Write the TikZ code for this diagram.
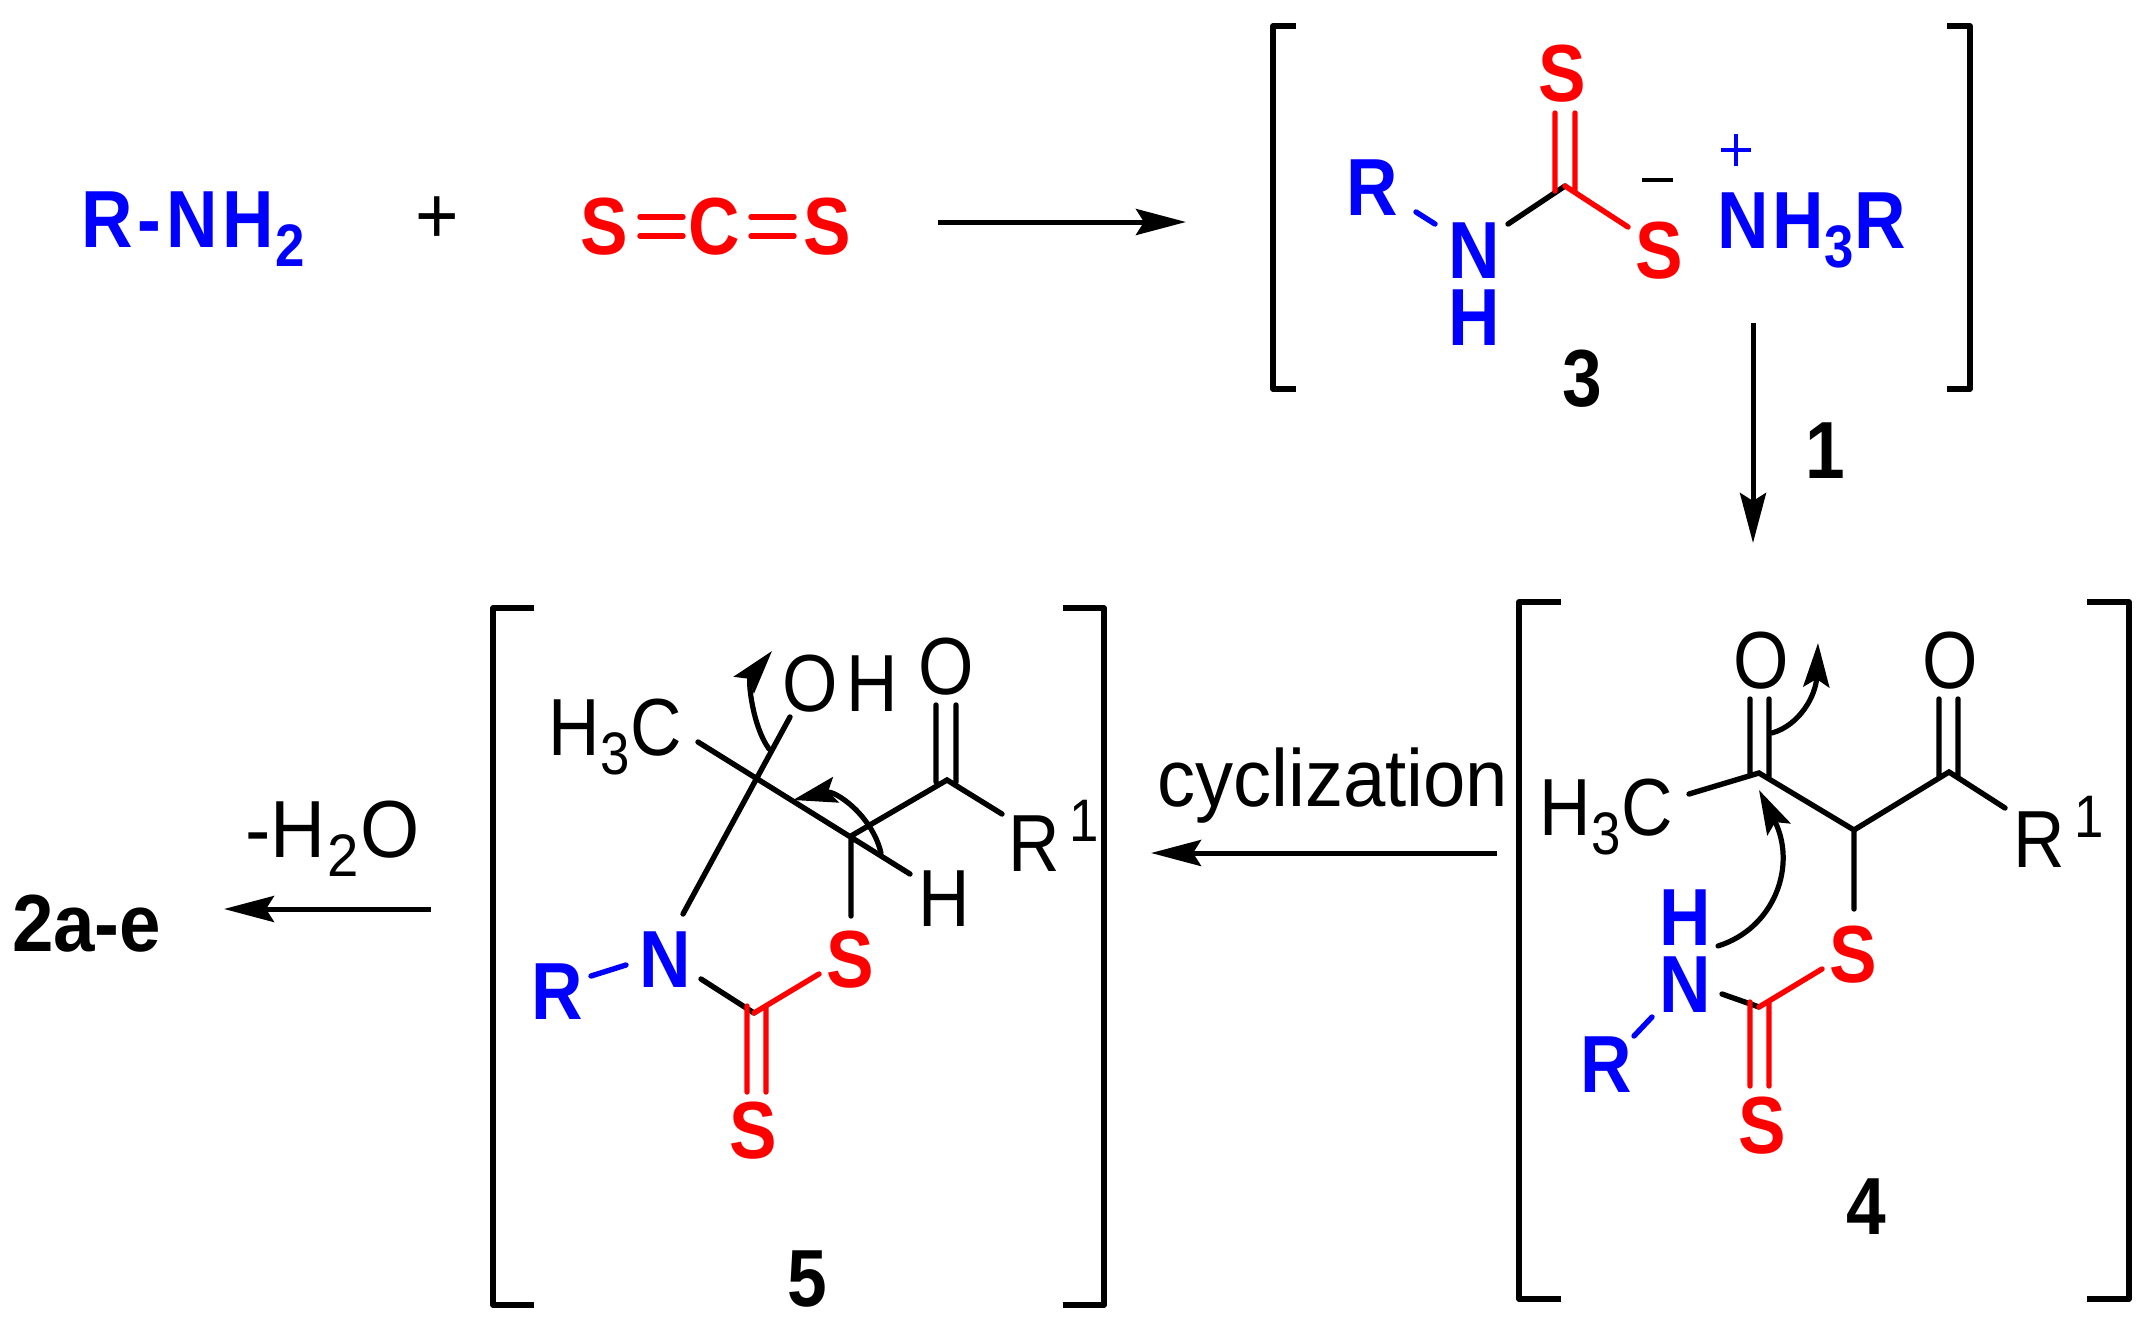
\documentclass[tikz,border=0pt]{standalone}
\usepackage{fontspec}
\setmainfont{Liberation Sans}
\newfontfamily\chemfont[FakeStretch=0.88]{Liberation Sans}
\newfontfamily\cycfont[FakeStretch=0.94]{Liberation Sans}
\newfontfamily\prodfont[FakeStretch=0.92]{Liberation Sans}
\usetikzlibrary{arrows.meta}
\definecolor{chemblue}{RGB}{0,0,255}
\definecolor{chemred}{RGB}{255,0,0}
\newcommand{\lab}{\fontsize{40.5}{40.5}\selectfont}
\newcommand{\labsub}[1]{\raisebox{-9.5pt}{\fontsize{30}{30}\selectfont #1}}
\newcommand{\labsup}[1]{\raisebox{15pt}{\fontsize{30}{30}\selectfont #1}}
\tikzset{
  every node/.style={inner sep=0pt,outer sep=0pt,font=\chemfont\lab},
  atom/.style={anchor=base,text=black},
  atomL/.style={anchor=base west,text=black},
  batom/.style={anchor=base,text=chemblue,font=\chemfont\bfseries\lab},
  batomL/.style={anchor=base west,text=chemblue,font=\chemfont\bfseries\lab},
  ratom/.style={anchor=base,text=chemred,font=\chemfont\bfseries\lab},
  numlab/.style={anchor=base,text=black,font=\chemfont\bfseries\lab},
  bond/.style={draw=black,line width=2.7pt,line cap=round},
  rbond/.style={draw=chemred,line width=2.7pt,line cap=round},
  bbond/.style={draw=chemblue,line width=2.7pt,line cap=round},
  brack/.style={draw=black,line width=2.6pt,line join=round},
  rxn/.style={draw=black,line width=2.5pt,-{Stealth[length=25pt,width=13pt,inset=4pt]}},
  curly/.style={draw=black,line width=2.6pt,line cap=round,-{Stealth[length=22pt,width=13pt,inset=4pt]}},
}
\begin{document}
\begin{tikzpicture}[x=0.5pt,y=-0.5pt]
\useasboundingbox (0,0) rectangle (2154,1328);
% --- top row
\node[batomL] (rnh2) at (81,247) {R\kern2.5pt-\kern2.5ptN\kern2.5ptH\kern0.5pt\labsub{2}};
\node[anchor=base,text=black,font=\prodfont\lab] (plus) at (437,243) {+};
\node[ratom] (s1) at (604,254) {S};
\node[ratom] (c1) at (714,254) {C};
\node[ratom] (s2) at (827,254) {S};
\coordinate (d1a) at (640,217); \coordinate (d1b) at (683,217);
\coordinate (d1c) at (640,236); \coordinate (d1d) at (683,236);
\coordinate (d2a) at (751,217); \coordinate (d2b) at (794,217);
\coordinate (d2c) at (751,236); \coordinate (d2d) at (794,236);
\draw[rbond] (d1a)--(d1b) (d1c)--(d1d) (d2a)--(d2b) (d2c)--(d2d);
\coordinate (a1s) at (938,222); \coordinate (a1e) at (1186,222);
\draw[rxn] (a1s)--(a1e);
% --- compound 3
\coordinate (b3a) at (1296,26); \coordinate (b3b) at (1273,26); \coordinate (b3c) at (1273,389); \coordinate (b3d) at (1296,389);
\coordinate (b3e) at (1947,26); \coordinate (b3f) at (1970,26); \coordinate (b3g) at (1970,389); \coordinate (b3h) at (1947,389);
\draw[brack] (b3a)--(b3b)--(b3c)--(b3d);
\draw[brack] (b3e)--(b3f)--(b3g)--(b3h);
\node[ratom] (s3t) at (1562,101) {S};
\node[ratom] (s3r) at (1659,278) {S};
\node[batom] (n3) at (1474,278) {N};
\node[batom] (h3) at (1474,345) {H};
\node[batom] (r3) at (1372,215) {R};
\node[batomL] (nh3r) at (1717,248) {N\kern2ptH\kern0.5pt\labsub{3}R};
\coordinate (c3) at (1565,186);
\coordinate (c3a) at (1555,113); \coordinate (c3b) at (1555,191);
\coordinate (c3c) at (1575,113); \coordinate (c3d) at (1575,191);
\coordinate (c3n) at (1508,224); \coordinate (c3s) at (1628,227);
\coordinate (r3a) at (1416,212); \coordinate (r3b) at (1435,224);
\coordinate (m3a) at (1642,180); \coordinate (m3b) at (1673,180);
\coordinate (p3a) at (1721,150); \coordinate (p3b) at (1751,150);
\coordinate (p3c) at (1736,134); \coordinate (p3d) at (1736,166);
\draw[bond] (c3n)--(c3);
\draw[rbond] (c3a)--(c3b) (c3c)--(c3d) (c3)--(c3s);
\draw[bbond] (r3a)--(r3b);
\draw[draw=black,line width=2.2pt] (m3a)--(m3b);
\draw[draw=chemblue,line width=2.2pt] (p3a)--(p3b) (p3c)--(p3d);
\node[numlab] (n3lab) at (1582,406) {3};
\coordinate (a2s) at (1753,323); \coordinate (a2e) at (1753,543);
\draw[rxn] (a2s)--(a2e);
\node[numlab] (n1lab) at (1825,478) {1};
% --- compound 4
\coordinate (b4a) at (1561,602); \coordinate (b4b) at (1519,602); \coordinate (b4c) at (1519,1299); \coordinate (b4d) at (1561,1299);
\coordinate (b4e) at (2087,602); \coordinate (b4f) at (2129,602); \coordinate (b4g) at (2129,1299); \coordinate (b4h) at (2087,1299);
\draw[brack] (b4a)--(b4b)--(b4c)--(b4d);
\draw[brack] (b4e)--(b4f)--(b4g)--(b4h);
\node[atomL] (ch34) at (1539,835) {H\kern0.5pt\labsub{3}\kern0.5ptC};
\node[atom] (o41) at (1761,688) {O};
\node[atom] (o42) at (1950,688) {O};
\node[atomL] (r41) at (2013,867) {R\labsup{\,1}};
\node[ratom] (s41) at (1853,982) {S};
\node[ratom] (s42) at (1762,1153) {S};
\node[batom] (n4) at (1685,1012) {N};
\node[batom] (h4) at (1685,945) {H};
\node[batom] (r4) at (1606,1092) {R};
\node[numlab] (n4lab) at (1866,1234) {4};
\coordinate (c41) at (1759,773); \coordinate (c42) at (1854,830); \coordinate (c43) at (1949,772);
\coordinate (e4me) at (1689,794); \coordinate (e4r) at (2005,808); \coordinate (e4s) at (1854,909);
\coordinate (o4a) at (1750,699); \coordinate (o4b) at (1750,775);
\coordinate (o4c) at (1769,699); \coordinate (o4d) at (1769,778);
\coordinate (o4e) at (1939,699); \coordinate (o4f) at (1939,776);
\coordinate (o4g) at (1958,699); \coordinate (o4h) at (1958,776);
\coordinate (c44) at (1759,1007); \coordinate (e4n) at (1722,994); \coordinate (e4sr) at (1822,969);
\coordinate (s4a) at (1750,1002); \coordinate (s4b) at (1750,1086);
\coordinate (s4c) at (1769,1002); \coordinate (s4d) at (1769,1086);
\coordinate (r4a) at (1652,1017); \coordinate (r4b) at (1634,1036);
\draw[bond] (e4me)--(c41)--(c42)--(c43)--(e4r) (c42)--(e4s) (o4a)--(o4b) (o4c)--(o4d) (o4e)--(o4f) (o4g)--(o4h) (e4n)--(c44);
\draw[rbond] (e4sr)--(c44) (s4a)--(s4b) (s4c)--(s4d);
\draw[bbond] (r4a)--(r4b);
\coordinate (k4a) at (1718,946); \coordinate (k4b) at (1759,790);
\draw[curly] (k4a) .. controls (1775,928) and (1797,865) .. (k4b);
\coordinate (k4c) at (1772,733); \coordinate (k4d) at (1818,643);
\draw[curly] (k4c) .. controls (1800,725) and (1816,695) .. (k4d);
% --- cyclization arrow
\node[anchor=base west,text=black,font=\cycfont\lab] (cyc) at (1157,806) {cyclization};
\coordinate (a3s) at (1497,853); \coordinate (a3e) at (1151,853);
\draw[rxn] (a3s)--(a3e);
% --- compound 5
\coordinate (b5a) at (534,608); \coordinate (b5b) at (493,608); \coordinate (b5c) at (493,1305); \coordinate (b5d) at (534,1305);
\coordinate (b5e) at (1063,608); \coordinate (b5f) at (1104,608); \coordinate (b5g) at (1104,1305); \coordinate (b5h) at (1063,1305);
\draw[brack] (b5a)--(b5b)--(b5c)--(b5d);
\draw[brack] (b5e)--(b5f)--(b5g)--(b5h);
\node[atomL] (ch35) at (548,755) {H\kern0.5pt\labsub{3}\kern0.5ptC};
\node[atomL] (oh5) at (782,711) {O\kern4.5ptH};
\node[atom] (o5) at (946,694) {O};
\node[atom] (h5) at (944,926) {H};
\node[atomL] (r51) at (1008,871) {R\labsup{\,1}};
\node[ratom] (s51) at (850,987) {S};
\node[ratom] (s52) at (753,1158) {S};
\node[batom] (n5) at (665,987) {N};
\node[batom] (r5) at (557,1019) {R};
\node[numlab] (n5lab) at (807,1306) {5};
\coordinate (c51) at (756,780); \coordinate (c52) at (851,836); \coordinate (c53) at (947,780);
\coordinate (e5me) at (698,742); \coordinate (e5h) at (910,874);
\coordinate (e5oh) at (790,717); \coordinate (e5n) at (683,914);
\coordinate (e5s) at (851,916); \coordinate (e5r) at (1002,814);
\coordinate (o5a) at (936,705); \coordinate (o5b) at (936,782);
\coordinate (o5c) at (956,705); \coordinate (o5d) at (956,782);
\coordinate (c54) at (754,1013); \coordinate (e5nc) at (701,979); \coordinate (e5sr) at (819,974);
\coordinate (s5a) at (747,1006); \coordinate (s5b) at (747,1092);
\coordinate (s5c) at (766,1006); \coordinate (s5d) at (766,1092);
\coordinate (r5a) at (591,976); \coordinate (r5b) at (626,965);
\draw[bond] (e5me)--(e5h) (e5oh)--(e5n) (c52)--(e5s) (c52)--(c53)--(e5r) (o5a)--(o5b) (o5c)--(o5d) (e5nc)--(c54);
\draw[rbond] (e5sr)--(c54) (s5a)--(s5b) (s5c)--(s5d);
\draw[bbond] (r5a)--(r5b);
\coordinate (k5a) at (769,749); \coordinate (k5b) at (772,651);
\draw[curly] (k5a) .. controls (752,725) and (748,680) .. (k5b);
\coordinate (k5c) at (881,853); \coordinate (k5d) at (793,800);
\draw[curly] (k5c) .. controls (872,815) and (835,790) .. (k5d);
% --- last step
\node[anchor=base west,text=black,font=\cycfont\lab] (h2o) at (245,857) {-H\kern1pt\labsub{2}\kern1ptO};
\coordinate (a4s) at (431,909); \coordinate (a4e) at (224,909);
\draw[rxn] (a4s)--(a4e);
\node[anchor=base west,text=black,font=\prodfont\bfseries\lab] (prod) at (12,951) {2a-e};
\end{tikzpicture}
\end{document}
